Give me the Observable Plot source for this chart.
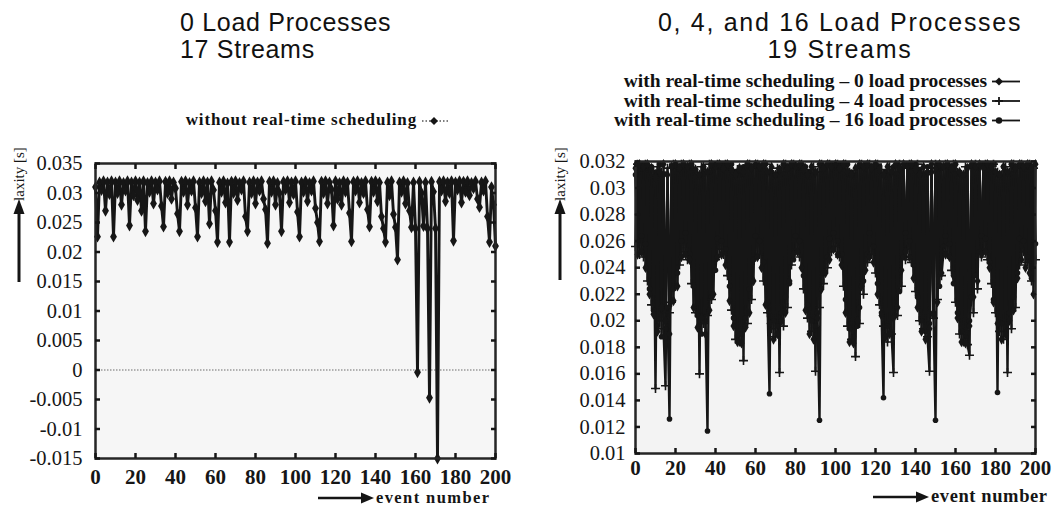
<!DOCTYPE html>
<html><head><meta charset="utf-8">
<script src="https://cdn.jsdelivr.net/npm/d3@7"></script>
<script src="https://cdn.jsdelivr.net/npm/@observablehq/plot@0.6"></script>
<style>
html,body{margin:0;padding:0;background:#fff;}
#page{position:relative;width:1056px;height:506px;overflow:hidden;background:#fff;}
.abs{position:absolute;}
.title{font-family:"Liberation Sans",Arial,sans-serif;font-size:25px;line-height:22px;height:22px;color:#111;white-space:nowrap;}
.legend{font-family:"Liberation Serif","Times New Roman",serif;font-weight:bold;font-size:19.5px;line-height:19.5px;color:#111;white-space:nowrap;text-align:right;}
</style></head>
<body><div id="page">
<div class="abs title" style="left:180px;top:11px;letter-spacing:0.7px">0 Load Processes</div>
<div class="abs title" style="left:180px;top:38px;letter-spacing:0.7px">17 Streams</div>
<div class="abs title" style="left:600px;width:480px;text-align:center;top:11px;letter-spacing:1.7px">0, 4, and 16 Load Processes</div>
<div class="abs title" style="left:600px;width:480px;text-align:center;top:38px;letter-spacing:1.7px">19 Streams</div>
<div class="abs legend" style="left:100px;width:317px;top:110px;font-size:17px;letter-spacing:0.85px">without real-time scheduling</div>
<div class="abs legend" style="left:540px;width:447px;top:71px">with real-time scheduling – 0 load processes<br>with real-time scheduling – 4 load processes<br>with real-time scheduling – 16 load processes</div>
<div id="left" class="abs" style="left:0;top:140px"></div>
<div id="right" class="abs" style="left:540px;top:138px"></div>
<svg class="abs" style="left:0;top:0" width="1056" height="506" font-family="'Liberation Serif','Times New Roman',serif" fill="#151515">
  <text transform="translate(24,174) rotate(-90)" text-anchor="middle" font-size="15">laxity [s]</text>
  <line x1="19" y1="282" x2="19" y2="212" stroke="#151515" stroke-width="3"/>
  <polygon points="19,199 13.5,214 24.5,214"/>
  <text transform="translate(565,174) rotate(-90)" text-anchor="middle" font-size="15">laxity [s]</text>
  <line x1="560" y1="280" x2="560" y2="212" stroke="#151515" stroke-width="3"/>
  <polygon points="560,199 554.5,214 565.5,214"/>
  <line x1="318" y1="498" x2="362" y2="498" stroke="#151515" stroke-width="2.5"/>
  <polygon points="374,498 361,492.5 361,503.5"/>
  <text x="376" y="502.5" font-weight="bold" font-size="16.5" letter-spacing="1.4">event number</text>
  <line x1="873" y1="497" x2="917" y2="497" stroke="#151515" stroke-width="2.5"/>
  <polygon points="929,497 916,491.5 916,502.5"/>
  <text x="931" y="501.5" font-weight="bold" font-size="18.5" letter-spacing="0.6">event number</text>
  <line x1="422" y1="121" x2="450" y2="121" stroke="#555" stroke-width="1.5" stroke-dasharray="1.5,2"/>
  <polygon points="434,117 438,121 434,125 430,121"/>
  <line x1="992" y1="81.5" x2="1020" y2="81.5" stroke="#151515" stroke-width="1.8"/>
  <polygon points="999,77.5 1003,81.5 999,85.5 995,81.5"/>
  <line x1="992" y1="101" x2="1020" y2="101" stroke="#151515" stroke-width="1.8"/>
  <path d="M999,97V105M995,101H1003" stroke="#151515" stroke-width="1.8"/>
  <line x1="992" y1="120.5" x2="1020" y2="120.5" stroke="#151515" stroke-width="1.8"/>
  <circle cx="999" cy="120.5" r="3.2"/>
</svg>
</div>
<script>
// ---- data (laxity in milliseconds, event number = index 0..200) ----
const laxityNoRT_ms = [
 31.0,22.6,31.8,30.5,32.0,27.0,31.8,29.8,32.0,22.6,
 31.8,30.0,32.0,28.0,31.7,30.4,32.0,24.5,31.8,29.6,
 32.0,28.8,31.8,27.0,32.0,23.5,31.7,30.2,32.0,28.2,
 31.8,30.6,32.0,27.8,24.3,31.9,30.0,32.0,29.0,31.8,
 30.8,26.5,23.5,31.9,30.2,32.0,28.0,31.7,30.4,32.0,
 27.5,22.6,31.8,30.0,32.0,28.6,31.8,24.8,32.0,30.5,
 27.0,21.7,31.8,30.2,32.0,28.4,31.6,21.7,31.9,30.0,
 32.0,28.8,31.7,30.6,32.0,26.0,23.5,31.8,30.0,32.0,
 28.2,31.8,30.4,32.0,29.0,27.2,21.5,31.9,30.2,32.0,
 28.0,31.7,30.0,23.5,31.9,30.6,32.0,28.4,31.8,29.8,
 32.0,26.8,22.6,31.8,30.2,32.0,28.6,31.7,30.4,32.0,
 27.4,25.0,21.8,31.9,30.0,32.0,28.2,31.8,30.6,24.5,
 32.0,29.0,31.7,28.0,32.0,30.2,31.8,26.6,21.8,31.9,
 30.4,32.0,28.4,31.7,30.0,32.0,27.2,24.3,31.9,30.2,
 32.0,28.6,31.8,26.0,24.0,21.7,31.8,29.6,32.0,26.4,
 24.2,18.7,31.8,30.2,32.0,28.2,31.7,27.0,24.2,31.8,
 24.0,-0.4,31.9,30.0,24.4,31.8,24.0,-4.7,31.9,30.2,
 24.0,-15.0,31.9,30.4,32.0,28.6,31.8,30.0,32.0,21.9,
 31.8,30.6,32.0,28.4,31.9,30.2,32.0,29.6,31.7,30.8,
 32.0,29.0,27.6,31.8,30.4,32.0,26.0,21.7,31.0,28.0,
 21.0];

const laxityRT0_ms = [
 31.5,25.0,31.8,25.2,31.6,24.0,31.8,22.0,31.5,20.5,
 30.8,19.2,31.2,21.0,31.8,20.0,31.0,19.0,31.6,21.5,
 31.8,22.6,31.5,24.8,31.8,25.0,31.6,24.6,31.8,21.0,
 31.4,19.5,31.0,20.2,31.6,19.0,31.2,20.8,31.8,22.0,
 31.6,24.8,31.8,25.0,31.5,24.2,31.8,21.5,31.4,19.6,
 31.0,18.4,31.5,18.3,31.2,19.5,31.8,20.6,31.5,23.0,
 31.8,24.8,31.6,24.0,31.8,21.2,31.2,19.8,31.6,18.6,
 31.0,19.0,31.4,20.0,31.8,20.6,31.5,23.0,31.8,25.0,
 31.6,25.2,31.8,24.0,31.4,20.8,31.0,19.0,31.6,18.6,
 31.2,20.2,31.8,22.4,31.5,23.6,31.8,24.6,31.6,25.4,
 31.8,25.0,31.5,24.2,31.8,20.6,31.2,18.4,31.0,18.3,
 31.5,20.0,31.8,22.6,31.6,23.8,31.8,24.8,31.5,24.4,
 31.8,22.0,31.4,20.4,31.0,18.8,31.6,19.0,31.2,20.2,
 31.8,21.0,31.5,23.8,31.8,25.2,31.6,24.8,31.8,23.2,
 31.4,21.0,31.0,19.2,31.6,18.6,31.2,19.4,31.8,20.4,
 31.5,21.4,31.8,23.6,31.6,25.0,31.8,24.8,31.5,23.4,
 31.8,20.2,31.2,18.4,31.0,18.3,31.5,19.6,31.8,21.8,
 31.6,23.0,31.8,25.0,31.5,25.2,31.8,24.0,31.6,21.4,
 31.2,19.8,31.0,18.6,31.6,19.0,31.2,20.0,31.8,20.8,
 31.5,23.2,31.8,24.6,31.6,24.0,31.8,23.6,31.5,22.0,
 31.8];

const laxityRT4_ms = [
 25.6,31.8,25.0,31.6,24.8,31.8,23.0,31.4,21.2,31.0,
 14.9,31.6,20.0,31.2,19.4,15.1,31.5,20.6,21.4,31.8,
 22.6,31.6,24.2,31.8,25.2,31.5,24.6,31.8,22.8,31.4,
 20.6,31.0,16.0,31.6,19.8,31.2,20.4,31.8,21.6,31.5,
 24.6,31.8,25.4,31.6,25.0,31.8,23.4,31.5,20.8,31.0,
 18.6,31.4,18.4,31.2,17.0,31.6,19.8,31.8,21.6,31.5,
 24.8,31.8,25.0,31.6,23.0,31.8,20.6,31.2,19.4,31.0,
 18.8,31.5,16.1,31.2,19.6,31.8,21.0,31.6,24.2,31.8,
 25.4,31.5,24.8,31.8,22.4,31.4,20.2,31.0,19.2,31.6,
 16.2,31.2,21.0,31.8,22.8,31.6,24.0,31.8,25.2,31.5,
 25.6,31.8,24.8,31.6,22.6,31.8,19.6,31.2,18.6,31.0,
 17.3,31.5,19.8,31.8,22.0,31.6,24.4,31.8,25.0,31.5,
 23.6,31.8,21.2,31.4,19.6,31.0,18.4,31.6,19.0,16.1,
 31.2,20.4,31.8,22.6,31.5,24.6,25.4,31.8,24.4,31.6,
 22.2,31.8,20.0,31.2,19.4,31.0,18.8,16.2,31.5,20.2,
 31.8,21.6,31.6,23.4,25.2,31.8,25.0,31.5,23.8,31.8,
 21.4,31.2,19.0,31.0,18.4,31.6,18.2,17.4,31.5,20.6,
 31.8,22.4,31.6,24.8,25.4,31.8,24.6,31.5,22.8,31.8,
 20.6,31.2,19.2,31.0,18.6,31.6,16.1,31.2,19.4,31.8,
 21.0,31.5,24.2,31.8,25.2,31.6,24.4,31.8,23.0,31.5,
 24.6];

const laxityRT16_ms = [
 31.0,28.0,31.6,26.4,31.8,25.8,31.4,22.4,31.6,20.8,
 31.2,19.6,31.8,18.8,31.0,19.4,21.0,12.6,31.6,22.4,
 31.8,23.6,31.5,26.0,31.8,26.6,31.6,25.0,31.8,22.6,
 31.4,20.4,31.0,19.0,31.6,20.0,11.7,31.2,21.8,31.8,
 23.8,26.2,31.6,26.0,31.8,25.4,31.5,22.6,31.8,20.2,
 31.2,18.6,31.0,19.0,31.6,20.2,31.8,22.4,31.5,24.6,
 26.4,31.8,26.0,31.6,24.4,31.8,21.4,14.5,31.2,20.0,
 31.0,19.6,31.5,20.6,31.8,21.8,31.6,22.8,31.8,24.6,
 26.4,31.5,26.0,31.8,23.4,31.6,21.2,31.2,20.0,31.0,
 19.6,20.6,12.5,31.8,23.6,31.6,24.8,26.2,31.8,26.6,
 31.5,26.0,31.8,25.0,31.6,21.6,31.8,19.4,31.2,18.8,
 31.0,19.6,21.0,31.6,23.0,31.8,25.0,26.6,31.5,25.6,
 31.8,22.8,31.6,20.6,14.2,31.2,19.6,31.0,19.0,31.6,
 20.4,31.8,22.2,31.5,24.8,26.6,31.8,26.0,31.6,24.2,
 31.8,21.8,31.4,20.0,31.0,19.2,31.6,19.8,31.2,20.6,
 12.5,31.8,22.6,31.5,25.6,26.4,31.8,25.8,31.6,22.8,
 31.8,20.6,31.2,19.2,31.0,18.8,31.6,20.0,21.8,31.8,
 23.4,31.5,25.2,26.4,31.8,26.2,31.6,24.4,31.8,21.6,
 31.2,14.6,31.0,19.8,31.6,19.2,31.2,20.6,31.8,21.8,
 31.5,23.6,26.2,31.8,26.0,31.6,24.8,31.8,23.2,31.5,
 25.8];

const leftXTicks = [0,20,40,60,80,100,120,140,160,180,200];
const leftYTicks = [-0.015,-0.01,-0.005,0,0.005,0.01,0.015,0.02,0.025,0.03,0.035];
const rightXTicks = [0,20,40,60,80,100,120,140,160,180,200];
const rightYTicks = [0.01,0.012,0.014,0.016,0.018,0.02,0.022,0.024,0.026,0.028,0.03,0.032];

// ---- build ----
const toRows = arr => arr.map((v, i) => ({event: i, laxity: v / 1000}));
const fmt = d => String(+d.toFixed(3));
const ink = "#161616";
const serif = "'Liberation Serif','Times New Roman',serif";
const styleBase = {fontFamily: serif, color: ink, background: "transparent", overflow: "visible"};

function tickAxes(xt, yt) {
  return [
    Plot.axisX(xt, {anchor: "bottom", tickSize: -5, strokeWidth: 2.5, tickFormat: () => ""}),
    Plot.axisX(xt, {anchor: "top", tickSize: -5, strokeWidth: 2.5, tickFormat: () => ""}),
    Plot.axisY(yt, {anchor: "left", tickSize: -5, strokeWidth: 2.5, tickFormat: () => ""}),
    Plot.axisY(yt, {anchor: "right", tickSize: -5, strokeWidth: 2.5, tickFormat: () => ""})
  ];
}

const noRT = toRows(laxityNoRT_ms);
const leftChart = Plot.plot({
  width: 520, height: 366,
  marginLeft: 95, marginRight: 25, marginTop: 23, marginBottom: 48,
  x: {domain: [0, 200], label: null},
  y: {domain: [-0.015, 0.035], label: null},
  style: styleBase,
  marks: [
    Plot.frame({fill: "#f6f6f6", stroke: null}),
    Plot.ruleY([0], {stroke: "#9a9a9a", strokeWidth: 1.5, strokeDasharray: "1.5,1.5"}),
    Plot.line(noRT, {x: "event", y: "laxity", stroke: ink, strokeWidth: 2.9}),
    Plot.dot(noRT, {x: "event", y: "laxity", symbol: "diamond", r: 3.6, fill: ink, stroke: null}),
    Plot.frame({stroke: "#262626", strokeWidth: 2.5}),
    ...tickAxes(leftXTicks, leftYTicks),
    Plot.axisX(leftXTicks, {anchor: "bottom", tickSize: 0, tickPadding: 11, fontSize: 21, fontWeight: "bold", fontFamily: serif, tickFormat: d => String(d)}),
    Plot.axisY(leftYTicks, {anchor: "left", tickSize: 0, tickPadding: 13, fontSize: 20.5, fontFamily: serif, tickFormat: fmt})
  ]
});
document.getElementById("left").append(leftChart);

const rt0 = toRows(laxityRT0_ms), rt4 = toRows(laxityRT4_ms), rt16 = toRows(laxityRT16_ms);
const rightChart = Plot.plot({
  width: 516, height: 368,
  marginLeft: 95, marginRight: 21, marginTop: 23, marginBottom: 53,
  x: {domain: [0, 200], label: null},
  y: {domain: [0.01, 0.032], label: null},
  style: styleBase,
  marks: [
    Plot.frame({fill: "#f3f3f3", stroke: null}),
    Plot.line(rt16, {x: "event", y: "laxity", stroke: ink, strokeWidth: 2.4}),
    Plot.line(rt4, {x: "event", y: "laxity", stroke: ink, strokeWidth: 2.4}),
    Plot.line(rt0, {x: "event", y: "laxity", stroke: ink, strokeWidth: 2.4}),
    Plot.dot(rt16, {x: "event", y: "laxity", symbol: "circle", r: 2.8, fill: ink, stroke: null}),
    Plot.dot(rt4, {x: "event", y: "laxity", symbol: "plus", r: 3, stroke: ink, strokeWidth: 1.6}),
    Plot.dot(rt0, {x: "event", y: "laxity", symbol: "diamond", r: 3.2, fill: ink, stroke: null}),
    Plot.frame({stroke: "#262626", strokeWidth: 2.5}),
    ...tickAxes(rightXTicks, rightYTicks),
    Plot.axisX(rightXTicks, {anchor: "bottom", tickSize: 0, tickPadding: 7, fontSize: 21, fontWeight: "bold", fontFamily: serif, tickFormat: d => String(d)}),
    Plot.axisY(rightYTicks, {anchor: "left", tickSize: 0, tickPadding: 10, fontSize: 20.5, fontFamily: serif, tickFormat: fmt})
  ]
});
document.getElementById("right").append(rightChart);
</script>
</body></html>
